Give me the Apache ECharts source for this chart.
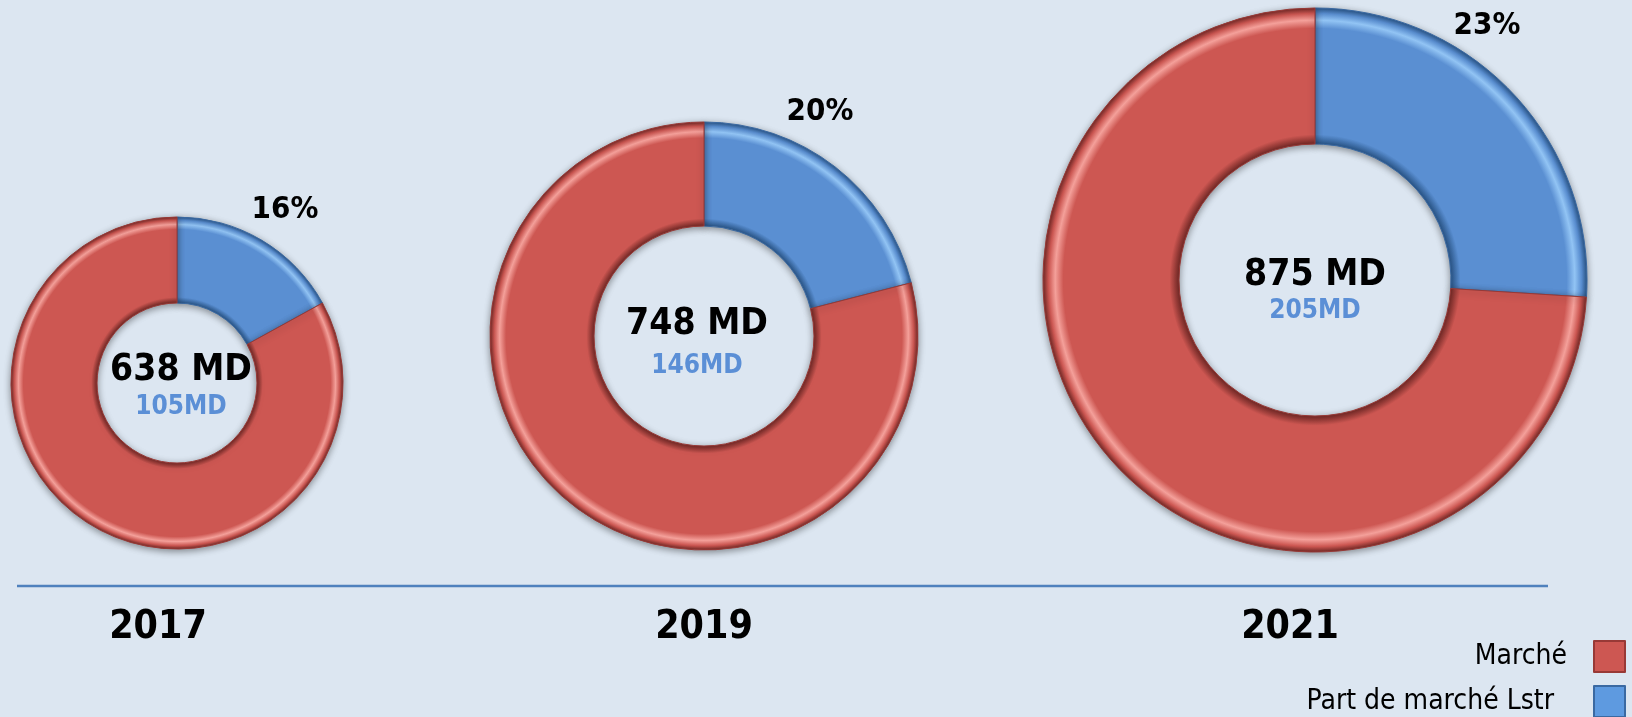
<!DOCTYPE html>
<html>
<head>
<meta charset="utf-8">
<title>Marché</title>
<script src="https://cdn.jsdelivr.net/npm/echarts@6/dist/echarts.min.js"></script>
<style>
html, body { margin: 0; padding: 0; background: #dce6f1; }
#chart { width: 1632px; height: 717px; }
</style>
</head>
<body>
<div id="chart"></div>
<script>
// données
var years = ['2017', '2019', '2021'];
var totals = ['638 MD', '748 MD', '875 MD'];
var parts = ['105MD', '146MD', '205MD'];
var pctLabels = ['16%', '20%', '23%'];
// parts des anneaux (bleu / rouge)
var partSlice = [17, 21, 26];
var marketSlice = [83, 79, 74];
var names = ['Marché', 'Part de marché Lstr'];

var RED = '#cd5752', BLUE = '#5a8fd2';

// position des anneaux
var rings = [
	{ c: [177, 383], r: [80, 166], year: [158, 628], total: [181, 370], part: [181, 407], pct: [285, 210] },
	{ c: [704, 336], r: [110, 214], year: [704, 628], total: [697, 324], part: [697, 366], pct: [820, 112] },
	{ c: [1315, 280], r: [136, 272], year: [1290, 628], total: [1315, 275], part: [1315, 311], pct: [1487, 26] }
];

function bevel(ring, base, light, dark) {
	var R = ring.r[1], k = ring.r[0] / R;
	return new echarts.graphic.RadialGradient(ring.c[0], ring.c[1], R, [
		{ offset: 0, color: dark },
		{ offset: k, color: dark },
		{ offset: k + 0.035, color: base },
		{ offset: 0.925, color: base },
		{ offset: 0.955, color: light },
		{ offset: 0.98, color: base },
		{ offset: 1, color: dark }
	], true);
}

var series = [];
var graphics = [];
var font = '"DejaVu Sans Condensed", "DejaVu Sans", sans-serif';
for (var i = 0; i < rings.length; i++) {
	var g = rings[i];
	series.push({
		type: 'pie',
		center: g.c,
		radius: g.r,
		startAngle: 90,
		clockwise: true,
		silent: true,
		animation: false,
		label: { show: false },
		labelLine: { show: false },
		data: [
			{ name: names[1], value: partSlice[i],
				itemStyle: { color: bevel(g, BLUE, '#92c4f4', '#2a5689'), borderColor: '#3a69a2', borderWidth: 1,
					shadowColor: 'rgba(0,0,0,0.4)', shadowBlur: 7, shadowOffsetY: 2 } },
			{ name: names[0], value: marketSlice[i],
				itemStyle: { color: bevel(g, RED, '#f4a09a', '#742926'), borderColor: '#983936', borderWidth: 1,
					shadowColor: 'rgba(0,0,0,0.4)', shadowBlur: 7, shadowOffsetY: 2 } }
		]
	});
	graphics.push({ type: 'text', x: g.year[0], y: g.year[1], z: 10,
		style: { text: years[i], font: 'bold 39px ' + font, fill: '#000', align: 'center', verticalAlign: 'middle' } });
	graphics.push({ type: 'text', x: g.total[0], y: g.total[1], z: 10,
		style: { text: totals[i], font: 'bold 37px ' + font, fill: '#000', align: 'center', verticalAlign: 'middle' } });
	graphics.push({ type: 'text', x: g.part[0], y: g.part[1], z: 10,
		style: { text: parts[i], font: 'bold 26px ' + font, fill: '#5b8fd6', align: 'center', verticalAlign: 'middle' } });
	graphics.push({ type: 'text', x: g.pct[0], y: g.pct[1], z: 10,
		style: { text: pctLabels[i], font: 'bold 31px ' + font, fill: '#000', align: 'center', verticalAlign: 'middle' } });
}
graphics.push({ type: 'line', z: 5, shape: { x1: 17, y1: 586, x2: 1548, y2: 586 },
	style: { stroke: '#4f81bd', lineWidth: 2.5 } });

// une légende par ligne
function legendRow(name, color, top, gap) {
	return {
		right: 6,
		top: top,
		padding: 0,
		align: 'right',
		itemWidth: 31,
		itemHeight: 31,
		icon: 'rect',
		data: [{ name: name, itemStyle: { color: color } }],
		formatter: '{a|{name}}',
		textStyle: {
			rich: { a: { fontFamily: font, fontSize: 28, color: '#000', padding: [0, gap, 0, 0] } }
		}
	};
}

var chart = echarts.init(document.getElementById('chart'));
chart.setOption({
	backgroundColor: '#dce6f1',
	animation: false,
	legend: [
		legendRow(names[0], RED, 640, 22),
		legendRow(names[1], '#5e9ae0', 685, 35)
	],
	series: series,
	graphic: graphics
});
</script>
</body>
</html>
